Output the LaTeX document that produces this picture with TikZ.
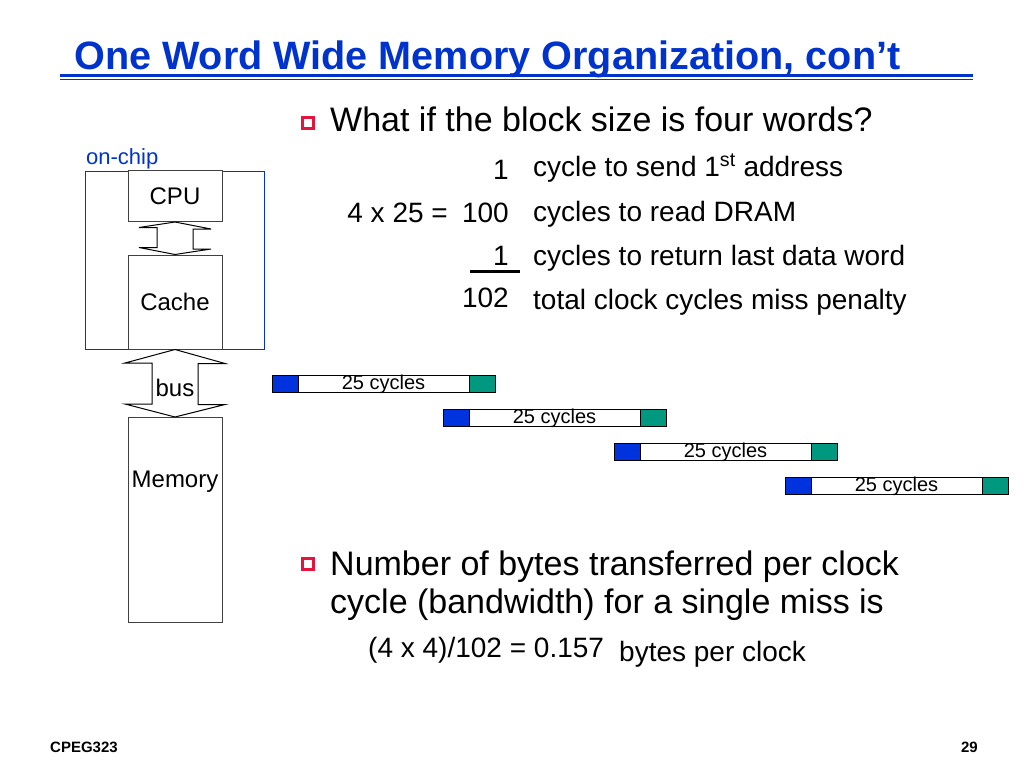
\documentclass[tikz,border=0pt]{standalone}
\usepackage{fontspec}
\setmainfont{Liberation Sans}
\usetikzlibrary{positioning}
\definecolor{titleblue}{RGB}{0,51,204}
\definecolor{sendblue}{RGB}{0,51,221}
\definecolor{retteal}{RGB}{0,153,128}
\definecolor{bulletred}{RGB}{230,20,60}
\begin{document}
\begin{tikzpicture}[x=1pt,y=-1pt,
  unitbox/.style={draw=black!75,line width=1pt,fill=white,minimum width=94pt,inner sep=0pt,font=\fontsize{24}{28}\selectfont},
  blockarrow/.style={draw=black,line width=1pt,fill=white,line join=miter},
  sendbox/.style={draw=black,line width=0.8pt,fill=sendblue,minimum width=26pt,minimum height=17pt,inner sep=0pt,outer sep=0pt},
  readbox/.style={draw=black,line width=0.8pt,fill=white,minimum width=171pt,minimum height=17pt,inner sep=0pt,outer sep=0pt,text height=14pt,text depth=3pt,font=\fontsize{20}{22}\selectfont},
  retbox/.style={draw=black,line width=0.8pt,fill=retteal,minimum width=26pt,minimum height=17pt,inner sep=0pt,outer sep=0pt},
  bulletbox/.style={draw=bulletred,line width=3pt,minimum size=11pt,inner sep=0pt},
  bigtext/.style={inner sep=0pt,font=\fontsize{34}{40}\selectfont},
  subtext/.style={inner sep=0pt,font=\fontsize{28}{32}\selectfont}]
\useasboundingbox (0,0) rectangle (1024,768);

% title
\node[anchor=base west,inner sep=0pt,text=titleblue,font=\fontsize{39.6}{45}\bfseries] (title) at (74,69) {One Word Wide Memory Organization, con’t};
\draw[titleblue,line width=3.2pt] (60,75.5) -- (973,75.5);
\draw[titleblue,line width=1pt] (60,79.5) -- (973,79.5);

% processor side
\node[anchor=base west,inner sep=0pt,text=titleblue,font=\fontsize{22}{26}\selectfont] (onchiplbl) at (86,164) {on-chip};
\draw[titleblue,line width=1pt] (85,171) rectangle (264,349);
\node[unitbox,minimum height=51pt] (cpu) at (175,196) {CPU};
\node[unitbox,minimum height=94pt] (cache) at (175,302) {Cache};
\node[unitbox,minimum height=205pt] (mem) at (175,520) {};
\node[inner sep=0pt,font=\fontsize{24}{28}\selectfont] (memlbl) at (175,482) {Memory};

\draw[blockarrow] (cpu.south) -- ++(36,7) -- ++(-18,0) -- ++(0,20) -- ++(18,0) -- (cache.north)
  -- ++(-36,-7) -- ++(18,0) -- ++(0,-20) -- ++(-18,0) -- cycle;
\draw[blockarrow] (cache.south) -- ++(50,14) -- ++(-27,0) -- ++(0,41) -- ++(27,0) -- (mem.north)
  -- ++(-50,-13) -- ++(27,0) -- ++(0,-41) -- ++(-27,0) -- cycle;
\node[inner sep=0pt,font=\fontsize{24}{28}\selectfont] (buslbl) at (175,388) {bus};

% first bullet
\node[bulletbox] (bulleta) at (308,123) {};
\node[bigtext,anchor=base west] (question) at (330,131) {What if the block size is four words?};

\node[subtext,anchor=base east] (numa) at (509,179) {1};
\node[subtext,anchor=base east] (numb) at (509,222) {100};
\node[subtext,anchor=base east] (calc) at (448,222) {4 x 25 =};
\node[subtext,anchor=base east] (numc) at (509,265) {1};
\node[subtext,anchor=base east] (numd) at (509,307) {102};
\draw[line width=3pt] (470,271.5) -- (520,271.5);

\node[subtext,anchor=base west] (texta) at (533,176) {cycle to send 1\textsuperscript{st} address};
\node[subtext,anchor=base west] (textb) at (533,221) {cycles to read DRAM};
\node[subtext,anchor=base west] (textc) at (533,265) {cycles to return last data word};
\node[subtext,anchor=base west] (textd) at (533,309) {total clock cycles miss penalty};

% timing bars
\node[sendbox] (senda) at (285,383.5) {};
\node[readbox,right=0pt of senda] (reada) {25 cycles};
\node[retbox,right=0pt of reada] (reta) {};

\node[sendbox] (sendb) at (456,417.5) {};
\node[readbox,right=0pt of sendb] (readb) {25 cycles};
\node[retbox,right=0pt of readb] (retb) {};

\node[sendbox] (sendc) at (627,451.5) {};
\node[readbox,right=0pt of sendc] (readc) {25 cycles};
\node[retbox,right=0pt of readc] (retc) {};

\node[sendbox] (sendd) at (798,485.5) {};
\node[readbox,right=0pt of sendd] (readd) {25 cycles};
\node[retbox,right=0pt of readd] (retd) {};

% second bullet
\node[bulletbox] (bulletb) at (308,564) {};
\node[bigtext,anchor=base west] (bwa) at (330,575) {Number of bytes transferred per clock};
\node[bigtext,anchor=base west] (bwb) at (330,613) {cycle (bandwidth) for a single miss is};
\node[subtext,anchor=base west] (bwc) at (368,657) {(4 x 4)/102 = 0.157};
\node[subtext,anchor=base west] (bwd) at (619,661) {bytes per clock};

% footer
\node[anchor=base west,inner sep=0pt,font=\fontsize{15}{18}\bfseries] (course) at (50,752) {CPEG323};
\node[anchor=base east,inner sep=0pt,font=\fontsize{15}{18}\bfseries] (page) at (978,752) {29};
\end{tikzpicture}
\end{document}
